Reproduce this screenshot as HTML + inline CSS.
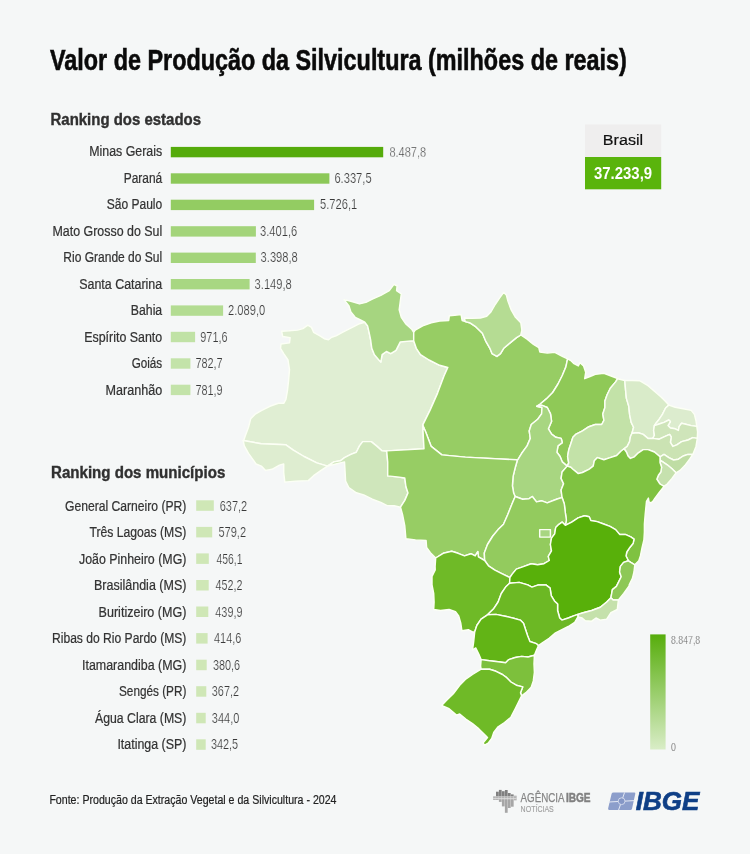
<!DOCTYPE html>
<html lang="pt-BR"><head><meta charset="utf-8"><title>Valor de Produção da Silvicultura</title>
<style>
html,body{margin:0;padding:0;background:#f5f7f7;}
body{width:750px;height:854px;overflow:hidden;}
svg{display:block;font-family:"Liberation Sans",sans-serif;}
#map path{stroke:#fcfff5;stroke-width:1.45;stroke-linejoin:round;}
</style></head><body>
<svg width="750" height="854" viewBox="0 0 750 854">
<defs><linearGradient id="lg" x1="0" y1="0" x2="0" y2="1"><stop offset="0" stop-color="#57ad0c"/><stop offset="1" stop-color="#d9edc7"/></linearGradient></defs>
<rect width="750" height="854" fill="#f5f7f7"/>
<g id="map">
<path d="M243.8 440.4 L245.3 435.7 L248.5 427.2 L250.7 418.7 L254.9 414.4 L261.3 410.6 L269.9 406.3 L278.4 403.3 L283.7 403.3 L285.9 399.5 L287.4 390.9 L288.6 380.3 L289.5 369.6 L288 360 L283.7 353.6 L280.5 348.3 L281 344 L289.5 342.9 L290.1 337.6 L282.7 336.5 L281.6 331.2 L289.1 330.8 L297.6 330.1 L302.9 328.6 L307.8 325.2 L311.5 327.4 L313.6 332.3 L320 335.9 L324.3 338.7 L328.5 339.7 L331.7 337.2 L336 335.9 L342.4 332.3 L348.8 329.1 L355.2 325.9 L359.5 323.7 L364.8 322.2 L367.6 325.9 L369.1 332.3 L370.6 339.7 L371.8 348.3 L374.4 354.7 L380.8 362.1 L382.1 354.7 L386.4 351.5 L390.7 353.6 L396 350.4 L400.3 341.9 L413.7 340.8 L416.3 348.3 L420.5 354.7 L429.1 360 L439.7 365.3 L447.8 367.5 L444 376 L437.6 393.1 L430.1 410.1 L422.7 425.1 L424 448.8 L386.7 450.9 L387.2 451.2 L381.9 450.8 L376.5 445.9 L371.2 441.6 L362.7 441.6 L359.5 445.9 L356.3 452.3 L350.9 454.4 L344.5 457.6 L340.3 460.8 L333.9 461.9 L327.5 466.1 L316.8 462.9 L304 456.5 L293.3 450.1 L285.9 444.8 L261.3 443.7 L243.2 440.5Z" fill="#e0eed3"/>
<path d="M243.2 440.5 L261.3 443.7 L285.9 444.8 L293.3 450.1 L304 456.5 L316.8 462.9 L327.5 466.1 L321.1 470.4 L313.6 475.7 L308.3 480.6 L295.5 481.1 L284.8 482.1 L283.7 472.5 L283.7 464 L279.5 465.1 L272 469.3 L265.6 470.4 L261.3 466.1 L256 464 L253.9 460.8 L248.5 453.3 L244.3 445.9Z" fill="#deedd0"/>
<path d="M327.5 466.1 L333.9 461.9 L340.3 460.8 L344.5 457.6 L350.9 454.4 L356.3 452.3 L359.5 445.9 L362.7 441.6 L371.2 441.6 L376.5 445.9 L381.9 450.8 L387.2 451.2 L386.7 450.9 L387.7 462 L387.7 475.9 L397.3 476.9 L404.8 478 L405.9 486.5 L408 492.9 L404.8 500.4 L400.5 507.2 L394.1 505.7 L387.2 505.6 L380.8 502.4 L372.3 499.2 L363.7 494.9 L356.3 492.8 L348.8 487.5 L345.6 481.1 L345 470.4 L344.5 461.9 L336 464Z" fill="#cfe6bb"/>
<path d="M344.1 299.6 L350.9 301.3 L359.5 303.9 L365.9 302.4 L372.3 299.2 L380.8 295.4 L389.3 290.7 L393.2 285.3 L393.9 284.3 L397.1 286 L396.6 290.7 L401.3 293.9 L400.3 301.3 L399.2 309.9 L401.3 317.3 L405.6 323.7 L412 329.5 L413.7 332.3 L413.7 340.8 L400.3 341.9 L396 350.4 L390.7 353.6 L386.4 351.5 L382.1 354.7 L380.8 362.1 L374.4 354.7 L371.8 348.3 L370.6 339.7 L369.1 332.3 L367.6 325.9 L364.8 322.2 L359.5 319.5 L355.2 317.3 L350.9 312 L348.8 305.6Z" fill="#a6d580"/>
<path d="M413.7 332.3 L415.2 330.1 L422.7 325.9 L431.2 322.7 L439.7 321 L448.7 320.5 L449.3 315.8 L454.7 315.2 L461.1 314.6 L462.1 320.5 L465.3 321.6 L469.6 322.7 L476 326.9 L482.4 333.3 L485.6 340.8 L489.9 348.3 L492 353.6 L496.9 356.4 L500.5 353.6 L503.7 348.3 L510.1 342.9 L516.5 337.6 L520.8 335 L527.1 339.2 L533.5 344.5 L538.8 347.7 L539.9 352 L547.3 353.1 L554.8 352.4 L562.3 356.3 L567.6 358.8 L565.9 366.9 L562.3 375.5 L558 384 L552.7 392.5 L546.3 398.9 L539.9 404.3 L536.7 406.4 L542 407.5 L541.6 413.9 L537.7 419.2 L531.3 424.5 L529.2 430.9 L530.3 438.4 L527.1 445.9 L521.7 453.3 L518.5 458.7 L517.3 460.3 L516.5 459.8 L465.3 457.1 L441.9 454.9 L431.2 446.4 L425.9 432.5 L422.7 425.1 L430.1 410.1 L437.6 393.1 L444 376 L447.8 367.5 L439.7 365.3 L429.1 360 L420.5 354.7 L416.3 348.3 L413.7 340.8Z" fill="#97cd64"/>
<path d="M465.3 321.6 L464.3 318 L471.7 318.4 L480.3 318 L486.7 316.3 L490.9 312 L495.2 304.5 L499.5 298.1 L503.7 292.4 L506.3 294.9 L508 301.3 L511.2 309.9 L515.5 317.3 L520.8 322.7 L521.9 330.1 L520.8 335 L516.5 337.6 L510.1 342.9 L503.7 348.3 L500.5 353.6 L496.9 356.4 L492 353.6 L489.9 348.3 L485.6 340.8 L482.4 333.3 L476 326.9 L469.6 322.7Z" fill="#b5dc93"/>
<path d="M567.6 358.8 L570.8 360.5 L574 363.7 L578.3 365.9 L580 362.7 L583.6 365.9 L585.7 372.3 L584.7 378.7 L590 376.5 L595.3 374.4 L603.9 373.3 L612.4 376.5 L617.7 378.7 L615.6 381.9 L610.3 388.3 L607.1 394.7 L604.9 401.1 L604.9 407.5 L602.8 413.9 L603.9 420.3 L601.7 424.5 L595.3 424.5 L588.9 426.7 L582.5 430.9 L576.1 434.1 L572.9 437.3 L570.8 443.7 L568.7 450.1 L567.6 456.5 L568.7 462.9 L567.2 466.1 L562.3 461.9 L560.1 456.5 L556.9 452.3 L558 445.9 L562.3 442.7 L561.2 438.4 L555.9 437.3 L551.6 434.1 L548.4 428.8 L551.6 421.3 L550.5 413.9 L547.3 407.5 L542 405.3 L536.7 406.4 L539.9 404.3 L546.3 398.9 L552.7 392.5 L558 384 L562.3 375.5 L565.9 366.9Z" fill="#8fc957"/>
<path d="M536.7 406.4 L542 405.3 L547.3 407.5 L550.5 413.9 L551.6 421.3 L548.4 428.8 L551.6 434.1 L555.9 437.3 L561.2 438.4 L562.3 442.7 L558 445.9 L556.9 452.3 L560.1 456.5 L562.3 461.9 L567.2 466.1 L562.1 472 L561.1 478.4 L563.6 483.7 L561.1 490.1 L562.1 497.6 L557.9 498.7 L552.5 500.8 L547.2 502.9 L541.9 500.8 L536.5 501.9 L532.3 496.5 L529.1 498.7 L522.7 499.3 L515.2 496.5 L513.7 493.3 L512.4 485.9 L513.1 476.3 L515.2 467.7 L517.3 460.3 L518.5 458.7 L521.7 453.3 L527.1 445.9 L530.3 438.4 L529.2 430.9 L531.3 424.5 L537.7 419.2 L541.6 413.9 L542 407.5Z" fill="#a8d681"/>
<path d="M617.7 378.7 L624.8 380.5 L625.6 390.4 L626.4 398.4 L628.8 406.4 L629.6 414.4 L631.2 422.4 L633.6 427.2 L632 433.3 L630.4 436.8 L629.6 441.6 L627.2 446.4 L624 448.8 L620.9 451.2 L616.7 455.5 L610.3 457.6 L603.9 459.7 L597.5 457.6 L594.3 460.8 L593.2 466.1 L588.9 469.3 L582.5 472.5 L578.3 473.6 L572.9 469.3 L570.8 467.2 L567.2 466.1 L568.7 462.9 L567.6 456.5 L568.7 450.1 L570.8 443.7 L572.9 437.3 L576.1 434.1 L582.5 430.9 L588.9 426.7 L595.3 424.5 L601.7 424.5 L603.9 420.3 L602.8 413.9 L604.9 407.5 L604.9 401.1 L607.1 394.7 L610.3 388.3 L615.6 381.9Z" fill="#c3e2a8"/>
<path d="M624.8 380.5 L632 380.5 L640 380.8 L648 385.6 L654.4 391.2 L660.8 396.8 L665.6 401.6 L668.8 405.1 L665.6 408 L662.4 414.4 L659.2 419.2 L656 423.2 L654.4 425.6 L653.6 430.4 L654.4 435.2 L652.8 438.4 L648 438.4 L643.2 434.4 L638.4 432.8 L632 433.3 L633.6 427.2 L631.2 422.4 L629.6 414.4 L628.8 406.4 L626.4 398.4 L625.6 390.4Z" fill="#d9ebc9"/>
<path d="M668.8 405.1 L675.2 407.2 L683.2 408.8 L691.2 410.4 L694.4 414.4 L696 420.8 L696.8 426.4 L691.2 425.6 L684.8 424 L681.6 423.2 L679.2 426.4 L678.4 430.4 L675.2 428.8 L670.4 428 L668 425.6 L670.4 421.6 L668.8 420 L664 422.4 L659.2 424 L654.4 425.6 L656 423.2 L659.2 419.2 L662.4 414.4 L665.6 408Z" fill="#dcecce"/>
<path d="M696.8 426.4 L697.6 432 L697.3 438.4 L692.8 437.6 L688 440 L681.6 441.6 L676.8 444.8 L672.8 446.4 L670.4 442.4 L671.2 436.8 L669.6 434.4 L664 436.8 L659.2 439.2 L652.8 438.4 L654.4 435.2 L653.6 430.4 L654.4 425.6 L659.2 424 L664 422.4 L668.8 420 L670.4 421.6 L668 425.6 L670.4 428 L675.2 428.8 L678.4 430.4 L679.2 426.4 L681.6 423.2 L684.8 424 L691.2 425.6Z" fill="#cfe5ba"/>
<path d="M697.3 438.4 L696 446.4 L692.8 454.4 L688 454.4 L683.2 456 L678.4 459.2 L673.6 460 L668.8 457.6 L664 454.4 L660 456.8 L654.4 452 L648 449.6 L643.2 449.6 L638.4 452.8 L634.4 456.8 L630.4 458.4 L628 456 L626.4 452 L624 448.8 L627.2 446.4 L629.6 441.6 L630.4 436.8 L632 433.3 L638.4 432.8 L643.2 434.4 L648 438.4 L652.8 438.4 L659.2 439.2 L664 436.8 L669.6 434.4 L671.2 436.8 L670.4 442.4 L672.8 446.4 L676.8 444.8 L681.6 441.6 L688 440 L692.8 437.6Z" fill="#cbe3b3"/>
<path d="M692.8 454.4 L689.6 459.2 L684.8 465.6 L680 470.4 L676 472.8 L672 468.8 L667.2 464.8 L662.4 461.6 L660 460 L660 456.8 L664 454.4 L668.8 457.6 L673.6 460 L678.4 459.2 L683.2 456 L688 454.4Z" fill="#bfdda4"/>
<path d="M676 472.8 L672 478.4 L667.2 484 L664 486.4 L660 484 L656.8 479.2 L658.4 475.2 L660.8 472 L661.6 467.2 L660 462.4 L660 460 L662.4 461.6 L667.2 464.8 L672 468.8Z" fill="#c6e1ae"/>
<path d="M567.2 466.1 L570.8 467.2 L572.9 469.3 L578.3 473.6 L582.5 472.5 L588.9 469.3 L593.2 466.1 L594.3 460.8 L597.5 457.6 L603.9 459.7 L610.3 457.6 L616.7 455.5 L620.9 451.2 L624 448.8 L626.4 452 L628 456 L630.4 458.4 L634.4 456.8 L638.4 452.8 L643.2 449.6 L648 449.6 L654.4 452 L660 456.8 L660 460 L660 462.4 L661.6 467.2 L660.8 472 L658.4 475.2 L656.8 479.2 L660 484 L664 486.4 L659.6 492 L654.8 498.4 L652.9 501.3 L651 502.9 L649 501.9 L648.4 498.1 L646.5 501.3 L646 506.4 L645.2 514.4 L644.4 524 L644.4 532 L643.9 540 L642 548 L640.4 556 L638.8 560.8 L634.8 564.8 L630.8 562.4 L628.4 560.8 L626 556 L626.8 552 L630 547.2 L633.2 543.2 L634 539.2 L630.8 536.8 L625.2 534.4 L619.6 534.4 L615.6 529.6 L610 526.4 L603.6 524 L597.2 521.6 L590.8 520.5 L589.2 516.8 L584.5 515.7 L578.1 517.9 L571.7 522.1 L565.3 525.3 L566.4 520 L565.3 512.5 L564.3 504 L562.1 497.6 L561.1 490.1 L563.6 483.7 L561.1 478.4 L562.1 472Z" fill="#7fc241"/>
<path d="M386.7 450.9 L424 448.8 L422.7 425.1 L425.9 432.5 L431.2 446.4 L441.9 454.9 L465.3 457.1 L516.5 459.8 L517.3 460.3 L515.2 467.7 L513.1 476.3 L512.4 485.9 L513.7 493.3 L515.2 496.5 L512 504 L507.7 514.7 L503.5 524.3 L498.1 529.6 L492.8 536 L487.5 544.5 L484.3 553.1 L484.7 560.5 L478.4 556.9 L477.8 551.6 L475.2 555.9 L470.9 553.7 L464.5 555.9 L458.1 553.3 L451.7 551.2 L443.2 553.3 L435.7 558 L430.4 552.7 L426.6 547.3 L426.1 540.5 L415.5 539.9 L405.9 538.8 L404.8 526 L402.7 515.3 L400.5 507.2 L404.8 500.4 L408 492.9 L405.9 486.5 L404.8 478 L397.3 476.9 L387.7 475.9 L387.7 462Z" fill="#97cd64"/>
<path d="M515.2 496.5 L522.7 499.3 L529.1 498.7 L532.3 496.5 L536.5 501.9 L541.9 500.8 L547.2 502.9 L552.5 500.8 L557.9 498.7 L562.1 497.6 L564.3 504 L565.3 512.5 L566.4 520 L565.3 525.3 L562.1 522.1 L558.9 524.3 L555.7 527.5 L554.7 533.9 L551.5 538.1 L550.4 544.5 L551.5 550.9 L548.3 556.3 L549.3 560.5 L544 563.7 L537.6 564.8 L531.2 563.7 L522.7 566.9 L516.3 569.1 L512 574.4 L509.9 577.6 L501.3 573.3 L494.9 570.1 L488.5 565.9 L484.7 560.5 L484.3 553.1 L487.5 544.5 L492.8 536 L498.1 529.6 L503.5 524.3 L507.7 514.7 L512 504Z" fill="#93cb5e"/>
<path d="M435.7 558 L443.2 553.3 L451.7 551.2 L458.1 553.3 L464.5 555.9 L470.9 553.7 L475.2 555.9 L477.8 551.6 L478.4 556.9 L484.7 560.5 L488.5 565.9 L494.9 570.1 L501.3 573.3 L509.9 577.6 L509.6 583.2 L505.6 587.1 L501.3 593.5 L498.1 602 L493.9 608.4 L487.5 614.8 L481.1 619.1 L476.8 625.5 L474.7 631.9 L472.5 631.9 L468.3 629.7 L461.9 630.8 L460.8 623.3 L458.7 615.9 L455.5 611.6 L449.1 609.5 L440.5 610.5 L433.7 609.5 L434.1 602 L433.7 593.5 L432 584.9 L432 576.4 L435.2 570 L435.1 566.5Z" fill="#6fba27"/>
<path d="M565.3 525.3 L571.7 522.1 L578.1 517.9 L584.5 515.7 L589.2 516.8 L590.8 520.5 L597.2 521.6 L603.6 524 L610 526.4 L615.6 529.6 L619.6 534.4 L625.2 534.4 L630.8 536.8 L634 539.2 L633.2 543.2 L630 547.2 L626.8 552 L626 556 L628.4 560.8 L623.6 562.4 L620.4 566.4 L619.6 572 L621.2 576.8 L618.8 581.6 L616.4 586.4 L612.4 589.6 L610.9 597.7 L606.7 602 L600.3 607.3 L591.7 610.5 L583.2 612.7 L577.9 614.4 L573.6 615.9 L568.3 618 L561.9 620.1 L559.7 618 L557.6 610.5 L557.6 604.1 L554.4 600.9 L551.2 595.6 L550.1 588.1 L545.9 584.9 L538.4 584.9 L532 587.1 L527.7 584.9 L519.2 582.4 L509.6 583.2 L509.9 577.6 L512 574.4 L516.3 569.1 L522.7 566.9 L531.2 563.7 L537.6 564.8 L544 563.7 L549.3 560.5 L548.3 556.3 L551.5 550.9 L550.4 544.5 L551.5 538.1 L554.7 533.9 L555.7 527.5 L558.9 524.3 L562.1 522.1Z" fill="#58b00a"/>
<path d="M628.4 560.8 L630.8 562.4 L634.8 564.8 L634 572 L632.4 578.4 L629.2 584.8 L629.1 586 L623.7 593.5 L618.4 599.9 L613.1 599.9 L610.9 597.7 L612.4 589.6 L616.4 586.4 L618.8 581.6 L621.2 576.8 L619.6 572 L620.4 566.4 L623.6 562.4Z" fill="#8dc856"/>
<path d="M610.9 597.7 L613.1 599.9 L618.4 599.9 L617.3 609.5 L610.9 612.7 L606.7 619.1 L600.3 620.1 L596 618 L591.7 621.2 L585.3 620.8 L582.1 618 L577.9 616.9 L577.9 614.4 L583.2 612.7 L591.7 610.5 L600.3 607.3 L606.7 602Z" fill="#c5e1ab"/>
<path d="M509.6 583.2 L519.2 582.4 L527.7 584.9 L532 587.1 L538.4 584.9 L545.9 584.9 L550.1 588.1 L551.2 595.6 L554.4 600.9 L557.6 604.1 L557.6 610.5 L559.7 618 L561.9 620.1 L568.3 618 L573.6 615.9 L577.9 614.4 L577.9 616.9 L574.7 622.3 L568.3 626.5 L561.9 629.7 L555.5 632.9 L549.1 638.3 L542.7 642.5 L538.4 645.7 L536.3 643.6 L529.9 641.5 L527.7 636.1 L525.6 629.7 L523.5 623.3 L520.3 620.1 L512.8 618 L506.4 616.5 L496 614.4 L487.5 614.8 L493.9 608.4 L498.1 602 L501.3 593.5 L505.6 587.1Z" fill="#6cb824"/>
<path d="M487.5 614.8 L496 614.4 L506.4 616.5 L512.8 618 L520.3 620.1 L523.5 623.3 L525.6 629.7 L527.7 636.1 L529.9 641.5 L536.3 643.6 L538.4 645.7 L536.5 650 L534.4 655.3 L528 657 L521.6 656.4 L515.2 657.5 L508.8 659.6 L505.6 662.8 L498.1 661.7 L489.6 660.7 L481.1 659.6 L478.9 654.3 L475.7 647.9 L472.5 650 L473.6 642.5 L474.7 631.9 L476.8 625.5 L481.1 619.1Z" fill="#62b416"/>
<path d="M481.1 659.6 L489.6 660.7 L498.1 661.7 L505.6 662.8 L508.8 659.6 L515.2 657.5 L521.6 656.4 L528 657 L534.4 655.3 L534 663.9 L534.4 672.4 L533.3 680.9 L531.2 687.3 L525.9 692.7 L521.6 695.9 L520.5 692.7 L522.7 686.9 L516.3 685.2 L510.9 682 L506.7 677.7 L502.4 674.5 L496 671.3 L489.6 669.2 L481.1 669.2 L480.6 666Z" fill="#7dc03c"/>
<path d="M481.1 669.2 L489.6 669.2 L496 671.3 L502.4 674.5 L506.7 677.7 L510.9 682 L516.3 685.2 L522.7 686.9 L520.5 692.7 L521.6 695.9 L518.4 702.3 L515.2 708.7 L510.9 717.2 L504.5 722.5 L498.1 726.8 L493.9 732.1 L491.7 738.5 L488.5 742.8 L484.3 745.4 L483.2 742.8 L487.5 737.5 L484.3 734.3 L478.9 728.9 L472.5 723.6 L466.1 719.3 L459.7 714 L456.5 715.1 L449.1 708.7 L441.6 705.5 L446.9 700.1 L453.3 693.7 L459.7 685.2 L466.1 678.8 L472.5 674.5Z" fill="#6fba27"/>
<path d="M539.7 529.6 L550.4 529.6 L550.4 537.1 L539.7 537.1Z" fill="#a8d681"/>
</g>
<g id="txt">
<text x="50.0" y="70.2" font-size="30.2" font-weight="bold" textLength="576.8" lengthAdjust="spacingAndGlyphs" fill="#0a0a0a" stroke="#0a0a0a" stroke-width="0.6">Valor de Produção da Silvicultura (milhões de reais)</text>
<text x="50.5" y="125.3" font-size="17.4" font-weight="bold" textLength="150.5" lengthAdjust="spacingAndGlyphs" fill="#303030" stroke="#303030" stroke-width="0.4">Ranking dos estados</text>
<text x="51.0" y="477.7" font-size="17.4" font-weight="bold" textLength="174.3" lengthAdjust="spacingAndGlyphs" fill="#303030" stroke="#303030" stroke-width="0.4">Ranking dos municípios</text>
<rect x="170.8" y="146.9" width="212.4" height="10.4" fill="#55ab0b"/>
<text x="89.2" y="156.2" font-size="14" textLength="73.0" lengthAdjust="spacingAndGlyphs" fill="#333" stroke="#333" stroke-width="0.22">Minas Gerais</text>
<text x="389.4" y="156.5" font-size="14.5" textLength="36.8" lengthAdjust="spacingAndGlyphs" fill="#3c3c3c" stroke="#f5f7f7" stroke-width="0.38">8.487,8</text>
<rect x="170.8" y="173.3" width="158.6" height="10.4" fill="#8cc858"/>
<text x="123.7" y="182.7" font-size="14" textLength="38.5" lengthAdjust="spacingAndGlyphs" fill="#333" stroke="#333" stroke-width="0.22">Paraná</text>
<text x="334.4" y="182.7" font-size="14.3" textLength="37.2" lengthAdjust="spacingAndGlyphs" fill="#3a3a3a" stroke="#f5f7f7" stroke-width="0.2">6.337,5</text>
<rect x="170.8" y="199.7" width="143.3" height="10.4" fill="#93cc62"/>
<text x="106.7" y="209.2" font-size="14" textLength="55.5" lengthAdjust="spacingAndGlyphs" fill="#333" stroke="#333" stroke-width="0.22">São Paulo</text>
<text x="320.0" y="209.2" font-size="14.3" textLength="37.2" lengthAdjust="spacingAndGlyphs" fill="#3a3a3a" stroke="#f5f7f7" stroke-width="0.2">5.726,1</text>
<rect x="170.8" y="226.2" width="85.1" height="10.4" fill="#a3d47a"/>
<text x="52.5" y="235.8" font-size="14" textLength="109.7" lengthAdjust="spacingAndGlyphs" fill="#333" stroke="#333" stroke-width="0.22">Mato Grosso do Sul</text>
<text x="260.0" y="235.8" font-size="14.3" textLength="37.2" lengthAdjust="spacingAndGlyphs" fill="#3a3a3a" stroke="#f5f7f7" stroke-width="0.2">3.401,6</text>
<rect x="170.8" y="252.6" width="85.0" height="10.4" fill="#a3d47a"/>
<text x="63.3" y="262.3" font-size="14" textLength="98.9" lengthAdjust="spacingAndGlyphs" fill="#333" stroke="#333" stroke-width="0.22">Rio Grande do Sul</text>
<text x="260.6" y="262.3" font-size="14.3" textLength="37.2" lengthAdjust="spacingAndGlyphs" fill="#3a3a3a" stroke="#f5f7f7" stroke-width="0.2">3.398,8</text>
<rect x="170.8" y="279.0" width="78.8" height="10.4" fill="#a8d782"/>
<text x="79.2" y="288.8" font-size="14" textLength="83.0" lengthAdjust="spacingAndGlyphs" fill="#333" stroke="#333" stroke-width="0.22">Santa Catarina</text>
<text x="254.6" y="288.8" font-size="14.3" textLength="37.2" lengthAdjust="spacingAndGlyphs" fill="#3a3a3a" stroke="#f5f7f7" stroke-width="0.2">3.149,8</text>
<rect x="170.8" y="305.4" width="52.3" height="10.4" fill="#b3dc92"/>
<text x="130.8" y="315.3" font-size="14" textLength="31.4" lengthAdjust="spacingAndGlyphs" fill="#333" stroke="#333" stroke-width="0.22">Bahia</text>
<text x="228.0" y="315.3" font-size="14.3" textLength="37.2" lengthAdjust="spacingAndGlyphs" fill="#3a3a3a" stroke="#f5f7f7" stroke-width="0.2">2.089,0</text>
<rect x="170.8" y="331.8" width="24.3" height="10.4" fill="#c0e2a5"/>
<text x="84.2" y="341.8" font-size="14" textLength="78.0" lengthAdjust="spacingAndGlyphs" fill="#333" stroke="#333" stroke-width="0.22">Espírito Santo</text>
<text x="200.3" y="341.8" font-size="14.3" textLength="27.3" lengthAdjust="spacingAndGlyphs" fill="#3a3a3a" stroke="#f5f7f7" stroke-width="0.2">971,6</text>
<rect x="170.8" y="358.3" width="19.6" height="10.4" fill="#c3e3a9"/>
<text x="131.7" y="368.4" font-size="14" textLength="30.5" lengthAdjust="spacingAndGlyphs" fill="#333" stroke="#333" stroke-width="0.22">Goiás</text>
<text x="195.4" y="368.4" font-size="14.3" textLength="27.3" lengthAdjust="spacingAndGlyphs" fill="#3a3a3a" stroke="#f5f7f7" stroke-width="0.2">782,7</text>
<rect x="170.8" y="384.7" width="19.6" height="10.4" fill="#c3e3a9"/>
<text x="105.5" y="394.9" font-size="14" textLength="56.7" lengthAdjust="spacingAndGlyphs" fill="#333" stroke="#333" stroke-width="0.22">Maranhão</text>
<text x="195.4" y="394.9" font-size="14.3" textLength="27.3" lengthAdjust="spacingAndGlyphs" fill="#3a3a3a" stroke="#f5f7f7" stroke-width="0.2">781,9</text>
<rect x="196.2" y="500.3" width="17.6" height="10.5" fill="#cfe7b6"/>
<text x="65.0" y="510.8" font-size="14" textLength="121.4" lengthAdjust="spacingAndGlyphs" fill="#333" stroke="#333" stroke-width="0.22">General Carneiro (PR)</text>
<text x="219.7" y="510.8" font-size="14.3" textLength="27.5" lengthAdjust="spacingAndGlyphs" fill="#3a3a3a" stroke="#f5f7f7" stroke-width="0.2">637,2</text>
<rect x="196.2" y="526.9" width="16.0" height="10.5" fill="#cfe7b6"/>
<text x="89.4" y="537.3" font-size="14" textLength="97.0" lengthAdjust="spacingAndGlyphs" fill="#333" stroke="#333" stroke-width="0.22">Três Lagoas (MS)</text>
<text x="218.4" y="537.3" font-size="14.3" textLength="27.7" lengthAdjust="spacingAndGlyphs" fill="#3a3a3a" stroke="#f5f7f7" stroke-width="0.2">579,2</text>
<rect x="196.2" y="553.4" width="12.6" height="10.5" fill="#cfe7b6"/>
<text x="79.0" y="563.7" font-size="14" textLength="107.4" lengthAdjust="spacingAndGlyphs" fill="#333" stroke="#333" stroke-width="0.22">João Pinheiro (MG)</text>
<text x="216.5" y="563.7" font-size="14.3" textLength="26.0" lengthAdjust="spacingAndGlyphs" fill="#3a3a3a" stroke="#f5f7f7" stroke-width="0.2">456,1</text>
<rect x="196.2" y="580.0" width="12.5" height="10.5" fill="#cfe7b6"/>
<text x="94.0" y="590.2" font-size="14" textLength="92.4" lengthAdjust="spacingAndGlyphs" fill="#333" stroke="#333" stroke-width="0.22">Brasilândia (MS)</text>
<text x="215.6" y="590.2" font-size="14.3" textLength="26.9" lengthAdjust="spacingAndGlyphs" fill="#3a3a3a" stroke="#f5f7f7" stroke-width="0.2">452,2</text>
<rect x="196.2" y="606.5" width="12.1" height="10.5" fill="#cfe7b6"/>
<text x="98.6" y="616.7" font-size="14" textLength="87.8" lengthAdjust="spacingAndGlyphs" fill="#333" stroke="#333" stroke-width="0.22">Buritizeiro (MG)</text>
<text x="215.3" y="616.7" font-size="14.3" textLength="27.2" lengthAdjust="spacingAndGlyphs" fill="#3a3a3a" stroke="#f5f7f7" stroke-width="0.2">439,9</text>
<rect x="196.2" y="633.1" width="11.4" height="10.5" fill="#cfe7b6"/>
<text x="52.0" y="643.1" font-size="14" textLength="134.4" lengthAdjust="spacingAndGlyphs" fill="#333" stroke="#333" stroke-width="0.22">Ribas do Rio Pardo (MS)</text>
<text x="214.0" y="643.1" font-size="14.3" textLength="27.4" lengthAdjust="spacingAndGlyphs" fill="#3a3a3a" stroke="#f5f7f7" stroke-width="0.2">414,6</text>
<rect x="196.2" y="659.7" width="10.5" height="10.5" fill="#cfe7b6"/>
<text x="82.0" y="669.6" font-size="14" textLength="104.4" lengthAdjust="spacingAndGlyphs" fill="#333" stroke="#333" stroke-width="0.22">Itamarandiba (MG)</text>
<text x="212.9" y="669.6" font-size="14.3" textLength="27.3" lengthAdjust="spacingAndGlyphs" fill="#3a3a3a" stroke="#f5f7f7" stroke-width="0.2">380,6</text>
<rect x="196.2" y="686.2" width="10.1" height="10.5" fill="#cfe7b6"/>
<text x="119.0" y="696.1" font-size="14" textLength="67.4" lengthAdjust="spacingAndGlyphs" fill="#333" stroke="#333" stroke-width="0.22">Sengés (PR)</text>
<text x="211.8" y="696.1" font-size="14.3" textLength="27.2" lengthAdjust="spacingAndGlyphs" fill="#3a3a3a" stroke="#f5f7f7" stroke-width="0.2">367,2</text>
<rect x="196.2" y="712.8" width="9.5" height="10.5" fill="#cfe7b6"/>
<text x="95.0" y="722.6" font-size="14" textLength="91.4" lengthAdjust="spacingAndGlyphs" fill="#333" stroke="#333" stroke-width="0.22">Água Clara (MS)</text>
<text x="211.8" y="722.6" font-size="14.3" textLength="27.5" lengthAdjust="spacingAndGlyphs" fill="#3a3a3a" stroke="#f5f7f7" stroke-width="0.2">344,0</text>
<rect x="196.2" y="739.3" width="9.5" height="10.5" fill="#cfe7b6"/>
<text x="117.4" y="749.0" font-size="14" textLength="69.0" lengthAdjust="spacingAndGlyphs" fill="#333" stroke="#333" stroke-width="0.22">Itatinga (SP)</text>
<text x="210.9" y="749.0" font-size="14.3" textLength="27.3" lengthAdjust="spacingAndGlyphs" fill="#3a3a3a" stroke="#f5f7f7" stroke-width="0.2">342,5</text>
<rect x="585" y="124.5" width="76.2" height="32.5" fill="#efeeee"/>
<rect x="585" y="157" width="76.2" height="32.3" fill="#5ab40c"/>
<text x="602.8" y="144.9" font-size="15.4" textLength="40.3" lengthAdjust="spacingAndGlyphs" fill="#111" stroke="#111" stroke-width="0.2">Brasil</text>
<text x="594.0" y="179.4" font-size="15.6" font-weight="bold" textLength="58.1" lengthAdjust="spacingAndGlyphs" fill="#fff">37.233,9</text>
<rect x="650.2" y="634.4" width="15.4" height="115.1" fill="url(#lg)"/>
<text x="671.0" y="643.9" font-size="10.8" textLength="29.2" lengthAdjust="spacingAndGlyphs" fill="#555" stroke="#f5f7f7" stroke-width="0.25">8.847,8</text>
<text x="671.0" y="750.7" font-size="10.8" textLength="4.9" lengthAdjust="spacingAndGlyphs" fill="#555" stroke="#f5f7f7" stroke-width="0.25">0</text>
<text x="49.4" y="804.4" font-size="12.3" textLength="287.1" lengthAdjust="spacingAndGlyphs" fill="#222" stroke="#222" stroke-width="0.2">Fonte: Produção da Extração Vegetal e da Silvicultura - 2024</text>
<rect x="493.1" y="796.3" width="2.75" height="0.1" fill="#808080"/>
<rect x="493.1" y="796.4" width="2.75" height="3.6" fill="#b4b4b4"/>
<rect x="496.0" y="791.7" width="2.75" height="4.7" fill="#808080"/>
<rect x="496.0" y="796.4" width="2.75" height="3.6" fill="#b4b4b4"/>
<rect x="498.9" y="789.9" width="2.75" height="6.5" fill="#808080"/>
<rect x="498.9" y="796.4" width="2.75" height="3.6" fill="#b4b4b4"/>
<rect x="498.9" y="800.0" width="2.75" height="1.9" fill="#a6a6a6"/>
<rect x="501.9" y="791.2" width="2.75" height="5.2" fill="#808080"/>
<rect x="501.9" y="796.4" width="2.75" height="3.6" fill="#b4b4b4"/>
<rect x="501.9" y="800.0" width="2.75" height="6.4" fill="#a6a6a6"/>
<rect x="504.9" y="790.0" width="2.75" height="6.4" fill="#808080"/>
<rect x="504.9" y="796.4" width="2.75" height="3.6" fill="#b4b4b4"/>
<rect x="504.9" y="800.0" width="2.75" height="12.8" fill="#a6a6a6"/>
<rect x="507.9" y="793.0" width="2.75" height="3.4" fill="#808080"/>
<rect x="507.9" y="796.4" width="2.75" height="3.6" fill="#b4b4b4"/>
<rect x="507.9" y="800.0" width="2.75" height="8.0" fill="#a6a6a6"/>
<rect x="510.9" y="794.4" width="2.75" height="2.0" fill="#808080"/>
<rect x="510.9" y="796.4" width="2.75" height="3.6" fill="#b4b4b4"/>
<rect x="510.9" y="800.0" width="2.75" height="6.7" fill="#a6a6a6"/>
<rect x="513.9" y="795.8" width="2.75" height="0.6" fill="#808080"/>
<rect x="513.9" y="796.4" width="2.75" height="3.6" fill="#b4b4b4"/>
<rect x="513.9" y="800.0" width="2.75" height="0.3" fill="#a6a6a6"/>
<rect x="493.1" y="798.0" width="23.4" height="0.7" fill="#e2e2e2"/>
<text x="520.6" y="802.1" font-size="13.2" textLength="43.9" lengthAdjust="spacingAndGlyphs" fill="#858585" stroke="#858585" stroke-width="0.25">AGÊNCIA</text>
<text x="565.9" y="802.1" font-size="13.2" font-weight="bold" textLength="24.7" lengthAdjust="spacingAndGlyphs" fill="#808080" stroke="#808080" stroke-width="0.5">IBGE</text>
<text x="520.6" y="812.2" font-size="9.7" textLength="33.2" lengthAdjust="spacingAndGlyphs" fill="#a0a0a0" stroke="#a0a0a0" stroke-width="0.15">NOTÍCIAS</text>
<path d="M613.6 792.4 L634.2 792.4 Q635.6 792.4 635.3 793.8 L632.0 808.8 Q631.7 810 630.4 810 L609.2 810 Q607.8 810 608.1 808.6 L611.6 793.8 Q611.9 792.4 613.6 792.4 Z" fill="#8c9ecb"/>
<path d="M624.6 792.4 L618.6 810 M608.8 802.0 L634.4 800.6" stroke="#e4e9f4" stroke-width="1" fill="none"/>
<circle cx="621.6" cy="801.2" r="3.4" fill="#8597c6" stroke="#dfe5f2" stroke-width="0.8"/>
<text x="635.8" y="809.8" font-size="24.9" font-weight="bold" font-style="italic" textLength="63.6" lengthAdjust="spacingAndGlyphs" fill="#0f3f86" stroke="#0f3f86" stroke-width="0.6">IBGE</text>
</g>
</svg>
</body></html>
